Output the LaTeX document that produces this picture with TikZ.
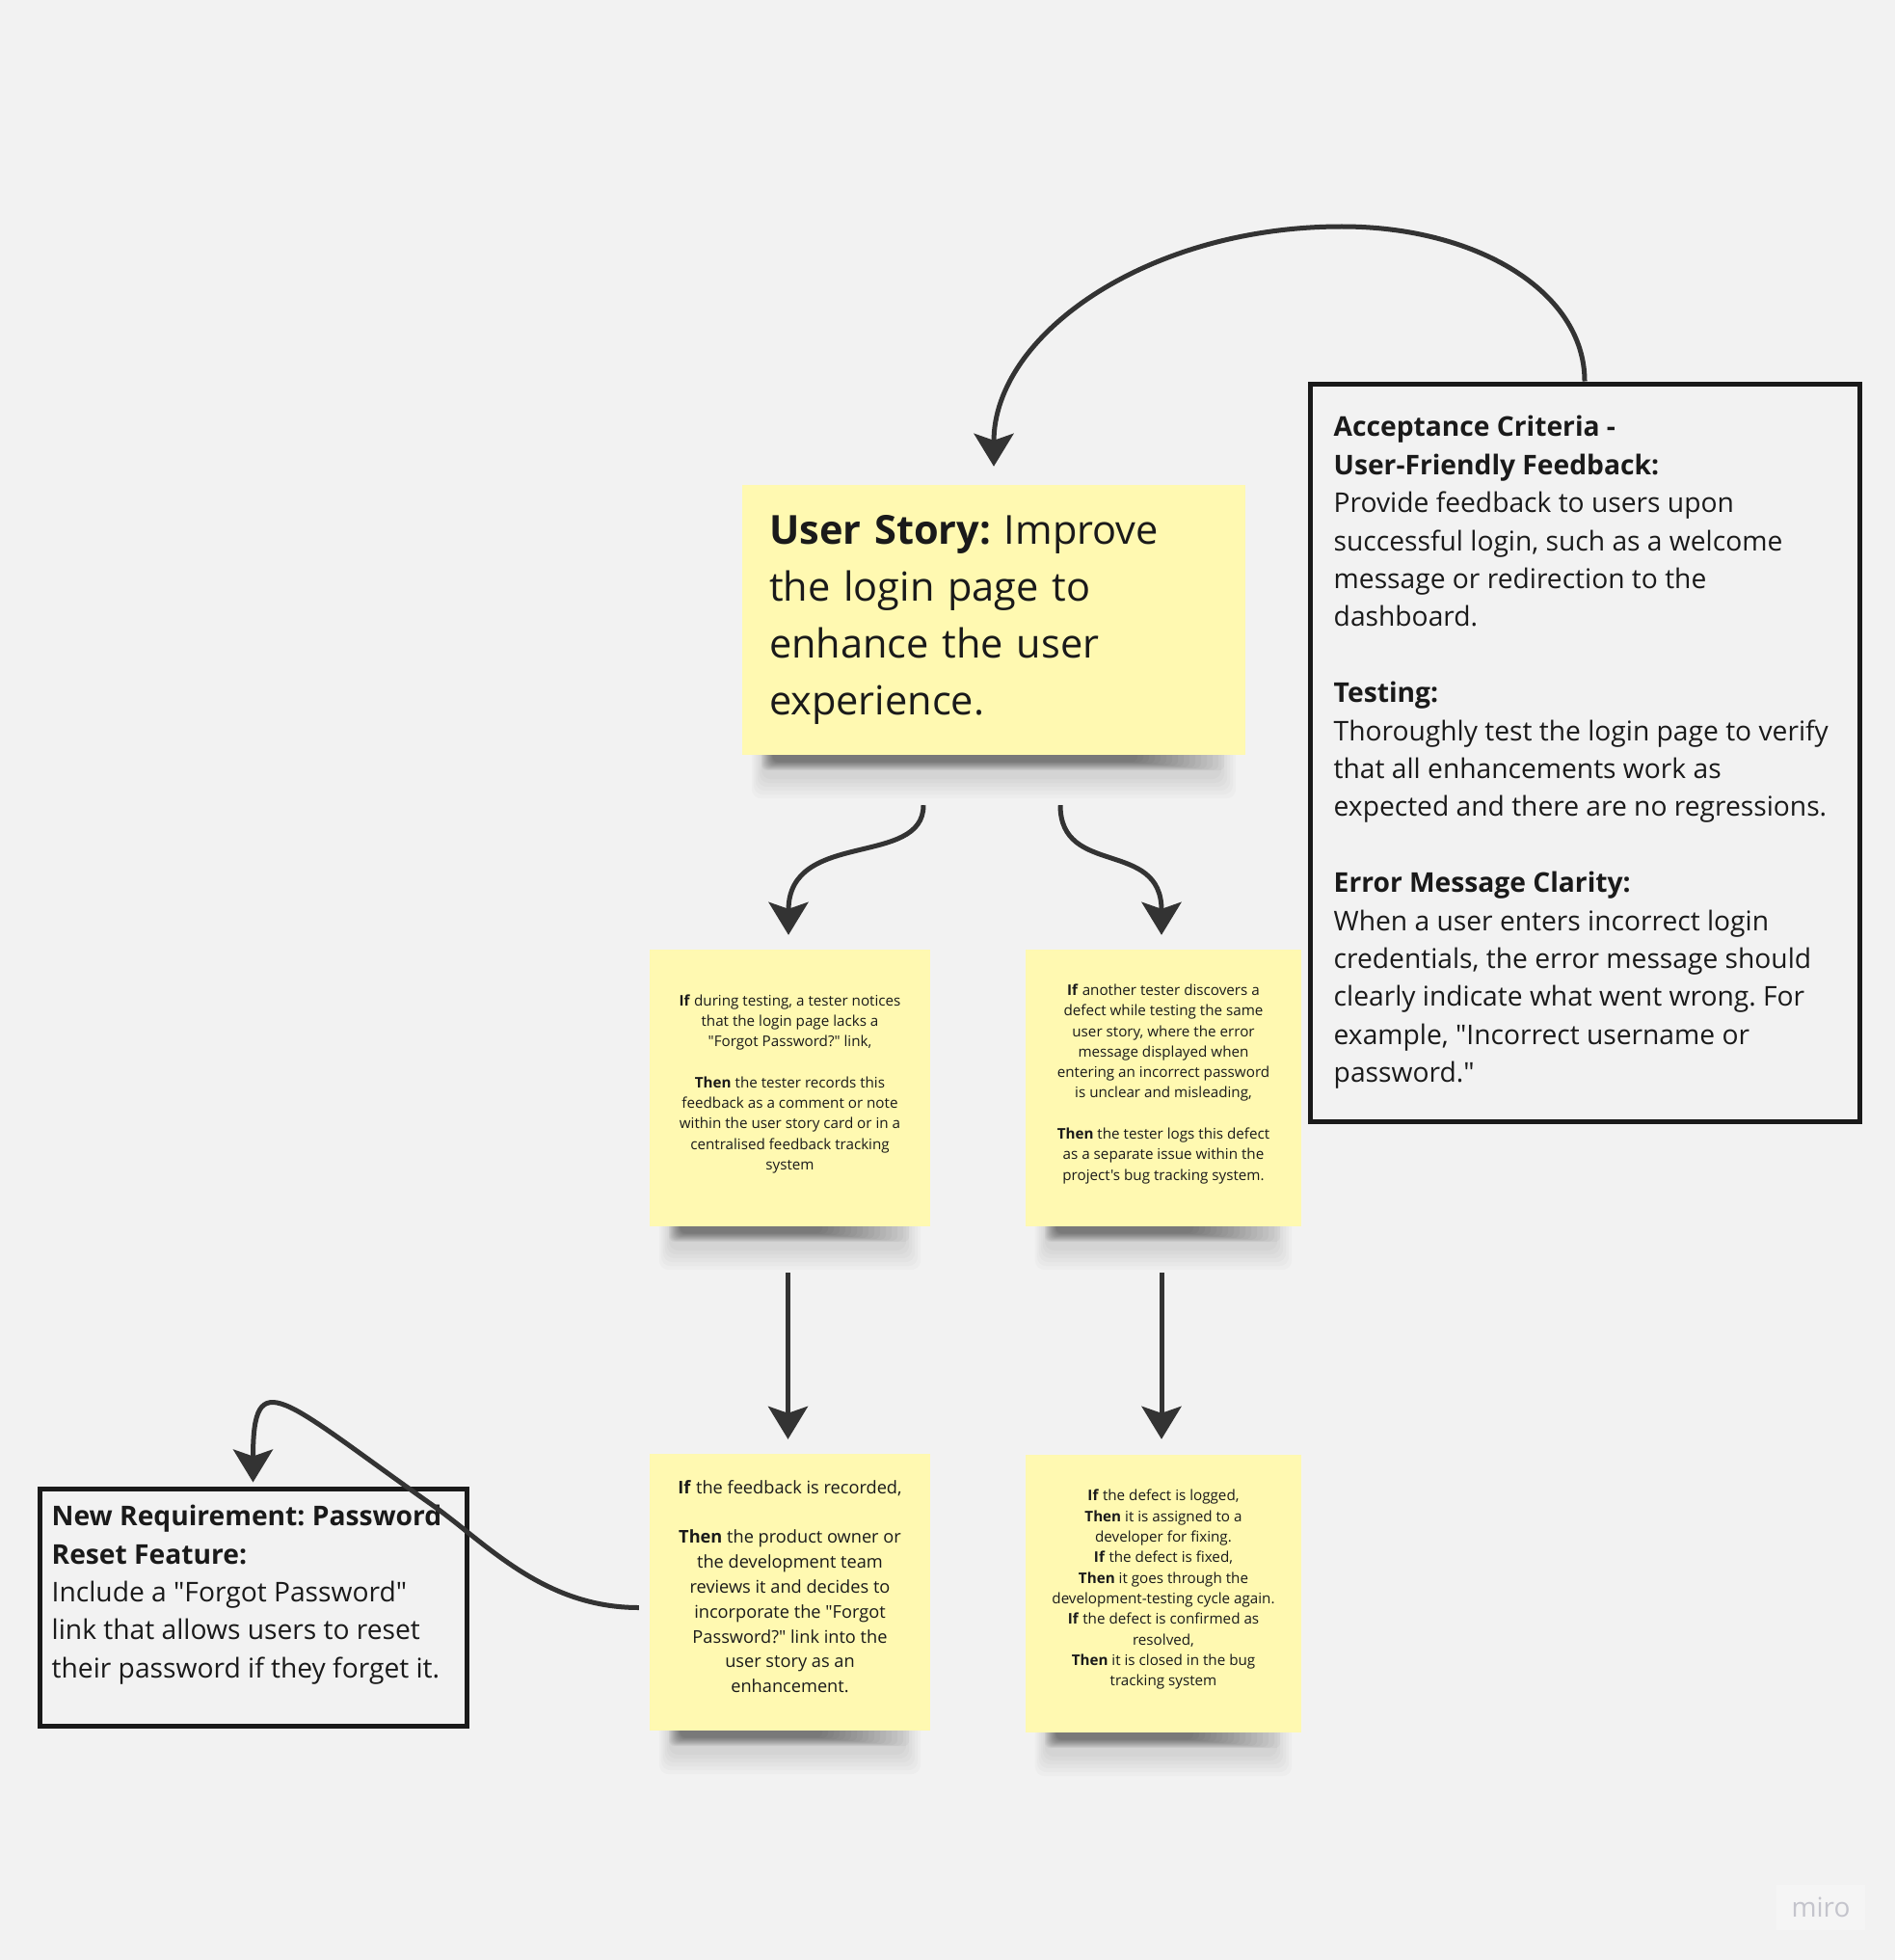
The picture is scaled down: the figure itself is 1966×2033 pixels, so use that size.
\documentclass[tikz,border=0pt]{standalone}
\usepackage{fontspec}
\newfontfamily\osans{Open Sans}
\usetikzlibrary{arrows.meta,calc}

\definecolor{bgcol}{HTML}{F2F2F2}
\definecolor{stickycol}{HTML}{FFF9B1}
\definecolor{inkcol}{HTML}{1A1A1A}
\definecolor{linkcol}{HTML}{333333}
\definecolor{logocol}{HTML}{C4C4CC}
\definecolor{logobox}{HTML}{F5F5F5}

\newcommand{\storyfont}{\osans\frenchspacing\fontsize{41.5}{59}\selectfont}
\newcommand{\boxfont}{\osans\frenchspacing\fontsize{28.2}{39.4}\selectfont}
\newcommand{\smallfont}{\osans\frenchspacing\fontsize{15.2}{21.3}\selectfont}
\newcommand{\midfont}{\osans\frenchspacing\fontsize{18.2}{25.8}\selectfont}
\newcommand{\tailstrut}{\rule[-12pt]{0pt}{12pt}}

\pgfdeclarelayer{back}
\pgfsetlayers{back,main}

\tikzset{
  sticky/.style={fill=stickycol, text=inkcol, inner sep=0pt, align=center},
  framebox/.style={draw=inkcol, line width=5pt, inner sep=0pt},
  boxtext/.style={inner sep=0pt, align=left, text=inkcol, font=\boxfont},
  linkarrow/.style={draw=linkcol, line width=5pt, -{Stealth[length=34pt,width=41pt,inset=7pt]}},
}

\begin{document}
\begin{tikzpicture}[x=1pt,y=-1pt]
            \begin{pgfonlayer}{back}
            \fill[bgcol] (0,0) rectangle (1966,2033); % fondo
            \end{pgfonlayer}
            \useasboundingbox (0,0) rectangle (1966,2033);
            \node (story) [sticky, minimum width=522pt, minimum height=280pt, text width=466pt, inner xsep=28pt, align=left, font=\storyfont] at (1031,643)
              {\textbf{User Story:} Improve\\the login page to\\enhance the user\\experience.};
            \node (crit) [framebox, minimum width=570pt, minimum height=765pt] at (1644,780.5) {};
            \node (crittext) [boxtext, anchor=west] at ($(crit.west)+(27,0)$)
              {\textbf{Acceptance Criteria -}\\
               \textbf{User-Friendly Feedback:}\\
               Provide feedback to users upon\\
               successful login, such as a welcome\\
               message or redirection to the\\
               dashboard.\\
               \mbox{}\\
               \textbf{Testing:}\\
               Thoroughly test the login page to verify\\
               that all enhancements work as\\
               expected and there are no regressions.\\
               \mbox{}\\
               \textbf{Error Message Clarity:}\\
               When a user enters incorrect login\\
               credentials, the error message should\\
               clearly indicate what went wrong. For\\
               example, "Incorrect username or\\
               password."};
            \node (fbnote) [sticky, minimum width=291pt, minimum height=287pt, font=\smallfont] at (819.5,1128.5)
              {\textbf{If} during testing, a tester notices\\that the login page lacks a\\"Forgot Password?" link,\\\mbox{}\\
               \textbf{Then} the tester records this\\feedback as a comment or note\\within the user story card or in a\\centralised feedback tracking\\system\tailstrut};
            \node (defnote) [sticky, minimum width=286pt, minimum height=287pt, font=\smallfont] at (1207,1128.5)
              {\textbf{If} another tester discovers a\\defect while testing the same\\user story, where the error\\message displayed when\\entering an incorrect password\\is unclear and misleading,\\\mbox{}\\
               \textbf{Then} the tester logs this defect\\as a separate issue within the\\project's bug tracking system.\tailstrut};
            \node (fbnext) [sticky, minimum width=291pt, minimum height=287pt, font=\midfont] at (819.5,1651.5)
              {\textbf{If} the feedback is recorded,\\\mbox{}\\
               \textbf{Then} the product owner or\\the development team\\reviews it and decides to\\incorporate the "Forgot\\Password?" link into the\\user story as an\\enhancement.\tailstrut};
            \node (defnext) [sticky, minimum width=286pt, minimum height=288pt, font=\smallfont] at (1207,1653)
              {\textbf{If} the defect is logged,\\\textbf{Then} it is assigned to a\\developer for fixing.\\\textbf{If} the defect is fixed,\\
               \textbf{Then} it goes through the\\development-testing cycle again.\\\textbf{If} the defect is confirmed as\\resolved,\\
               \textbf{Then} it is closed in the bug\\tracking system\tailstrut};
            \node (newreq) [framebox, minimum width=443pt, minimum height=246pt] at (262.5,1667) {};
            \node (newreqtext) [boxtext, anchor=north west] at (53.5,1561)
              {\textbf{New Requirement: Password}\\\textbf{Reset Feature:}\\Include a "Forgot Password"\\link that allows users to reset\\their password if they forget it.};
            \node (logo) [fill=logobox, text=logocol, minimum width=92pt, minimum height=47pt, font=\osans\fontsize{28}{28}\selectfont] at (1889,1978.5) {miro};
            \begin{pgfonlayer}{back}
            \foreach \n in {story,fbnote,defnote,fbnext,defnext} {
            \foreach \k in {0,...,5}
            \fill[black, opacity=0.02, rounded corners=10pt] ($(\n.south west)+(10+2*\k,-10)$) rectangle ($(\n.south east)+(-10-3*\k,45-4*\k)$); % halo
            \foreach \k in {0,...,15}
            \fill[black, opacity=0.03, rounded corners=6pt] ($(\n.south west)+(20+0.8*\k,-10)$) rectangle ($(\n.south east)+(-22-6*\k,16-0.6*\k)$); % sombra
            }
            \end{pgfonlayer}
            \coordinate (peak) at (1392,235);
            \coordinate (bend) at (447,1560);
            \draw[linkarrow, shorten >=19pt] (crit.north) .. controls +(0,-93) and (1532,235) .. (peak) .. controls (1191,235) and +(0,-156) .. (story.north);
            \draw[linkarrow] ($(story.south)+(-73,52)$) .. controls +(0,65) and +(0,-110) .. ($(fbnote.north)+(-1.5,-15)$);
            \draw[linkarrow] ($(story.south)+(69,52)$) .. controls +(0,75) and +(0,-100) .. ($(defnote.north)+(-2,-15)$);
            \draw[linkarrow] ($(fbnote.south)+(-2,48)$) -- ($(fbnext.north)+(-2,-15)$);
            \draw[linkarrow] ($(defnote.south)+(-2,48)$) -- ($(defnext.north)+(-2,-16)$);
            \draw[linkarrow] ($(fbnext.west)+(-11,16)$) .. controls +(-100,0) and (504,1600) .. (bend) .. controls (292,1451) and +(0,-125) .. ($(newreq.north)+(0,-4)$); % requisito
\end{tikzpicture}
\end{document}
